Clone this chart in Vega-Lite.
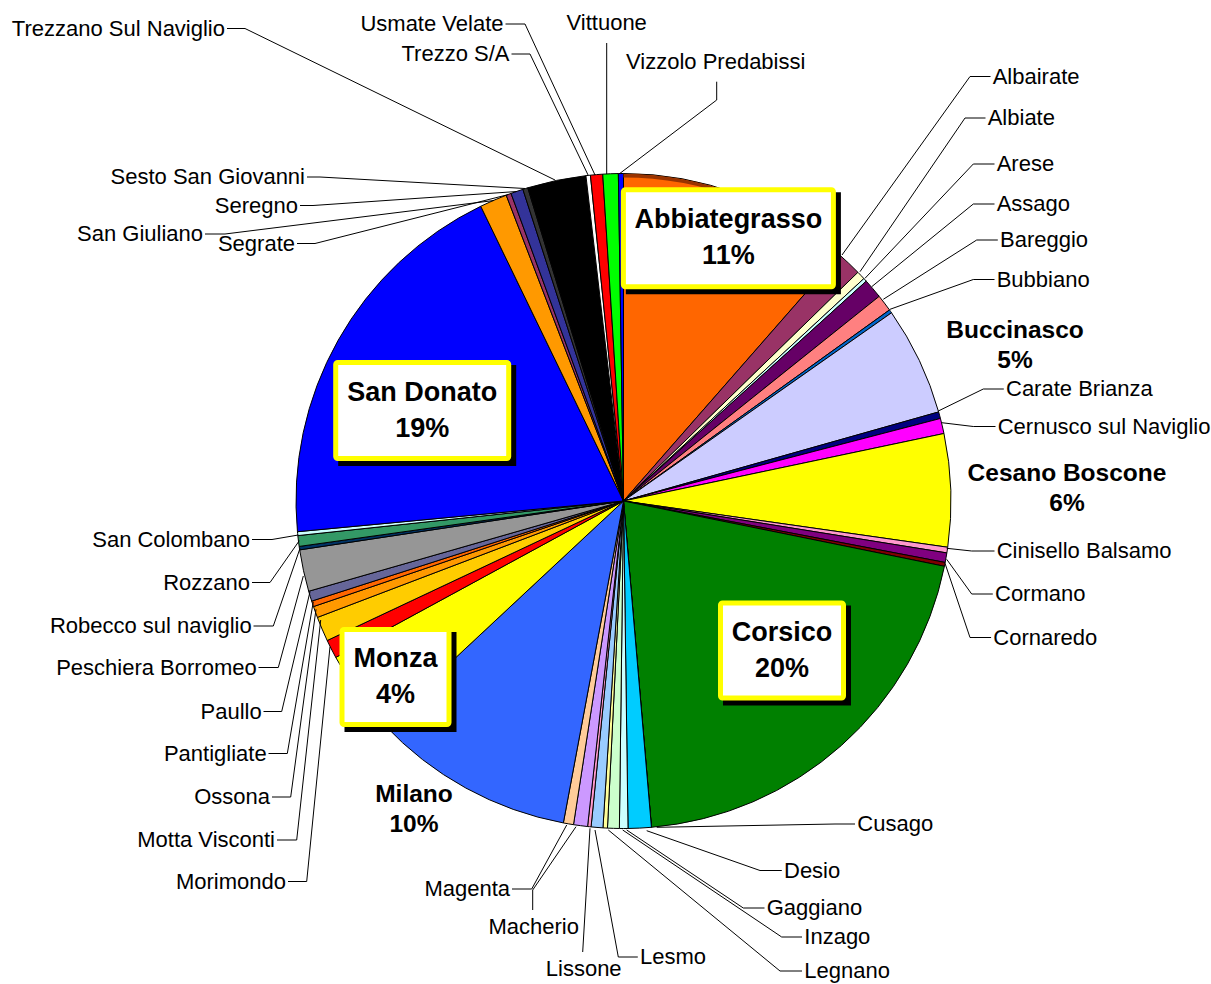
{
  "$schema": "https://vega.github.io/schema/vega-lite/v6.json",
  "width": 1175,
  "height": 966,
  "autosize": {"type": "none"},
  "padding": {"left": 36, "top": 18, "right": 0, "bottom": 0},
  "background": "white",
  "config": {"view": {"stroke": null}},
  "datasets": {
    "slices": [
      {"name": "Abbiategrasso", "share": 0.1145},
      {"name": "Albairate", "share": 0.0125},
      {"name": "Albiate", "share": 0.0042},
      {"name": "Arese", "share": 0.0017},
      {"name": "Assago", "share": 0.0097},
      {"name": "Bareggio", "share": 0.0083},
      {"name": "Bubbiano", "share": 0.0017},
      {"name": "Buccinasco", "share": 0.0536},
      {"name": "Carate Brianza", "share": 0.0033},
      {"name": "Cernusco sul Naviglio", "share": 0.0075},
      {"name": "Cesano Boscone", "share": 0.0556},
      {"name": "Cinisello Balsamo", "share": 0.0028},
      {"name": "Cormano", "share": 0.0047},
      {"name": "Cornaredo", "share": 0.0019},
      {"name": "Corsico", "share": 0.2045},
      {"name": "Cusago", "share": 0},
      {"name": "Desio", "share": 0.0114},
      {"name": "Gaggiano", "share": 0.0042},
      {"name": "Inzago", "share": 0.0058},
      {"name": "Legnano", "share": 0.0022},
      {"name": "Lesmo", "share": 0.0058},
      {"name": "Lissone", "share": 0.0017},
      {"name": "Macherio", "share": 0.0069},
      {"name": "Magenta", "share": 0.005},
      {"name": "Milano", "share": 0.1011},
      {"name": "Monza", "share": 0.0403},
      {"name": "Morimondo", "share": 0.0092},
      {"name": "Motta Visconti", "share": 0.0122},
      {"name": "Ossona", "share": 0.0056},
      {"name": "Pantigliate", "share": 0.0028},
      {"name": "Paullo", "share": 0.005},
      {"name": "Peschiera Borromeo", "share": 0.0206},
      {"name": "Robecco sul naviglio", "share": 0.0017},
      {"name": "Rozzano", "share": 0.0053},
      {"name": "San Colombano", "share": 0.0019},
      {"name": "San Donato", "share": 0.1932},
      {"name": "San Giuliano", "share": 0.0135},
      {"name": "Segrate", "share": 0.0025},
      {"name": "Seregno", "share": 0.0061},
      {"name": "Sesto San Giovanni", "share": 0.0025},
      {"name": "Trezzano Sul Naviglio", "share": 0.0289},
      {"name": "Trezzo S/A", "share": 0.0022},
      {"name": "Usmate Velate", "share": 0.006},
      {"name": "Vittuone", "share": 0.0076},
      {"name": "Vizzolo Predabissi", "share": 0.0025}
    ],
    "labels": [
      {"name": "Trezzano Sul Naviglio", "u": -199.25, "v": 236.25},
      {"name": "Usmate Velate", "u": -60, "v": 238.5},
      {"name": "Trezzo S/A", "u": -57, "v": 223.5},
      {"name": "Sesto San Giovanni", "u": -159.25, "v": 162},
      {"name": "Seregno", "u": -162.75, "v": 147.75},
      {"name": "San Giuliano", "u": -210.25, "v": 133.5},
      {"name": "Segrate", "u": -164.25, "v": 128.75},
      {"name": "San Colombano", "u": -186.75, "v": -19.25},
      {"name": "Rozzano", "u": -186.75, "v": -40.75},
      {"name": "Robecco sul naviglio", "u": -185.9, "v": -62.5},
      {"name": "Peschiera Borromeo", "u": -183.4, "v": -83.25},
      {"name": "Paullo", "u": -180.9, "v": -105.25},
      {"name": "Pantigliate", "u": -178.4, "v": -126.25},
      {"name": "Ossona", "u": -176.75, "v": -148},
      {"name": "Motta Visconti", "u": -174.25, "v": -169.5},
      {"name": "Morimondo", "u": -168.75, "v": -190.25},
      {"name": "Magenta", "u": -56.75, "v": -194},
      {"name": "Albairate", "u": 184.6, "v": 212.25},
      {"name": "Albiate", "u": 182.1, "v": 191.5},
      {"name": "Arese", "u": 186.6, "v": 168.5},
      {"name": "Assago", "u": 186.6, "v": 148.5},
      {"name": "Bareggio", "u": 188.25, "v": 130.5},
      {"name": "Bubbiano", "u": 186.6, "v": 110.75},
      {"name": "Carate Brianza", "u": 191.25, "v": 56},
      {"name": "Cernusco sul Naviglio", "u": 187.1, "v": 37.25},
      {"name": "Cinisello Balsamo", "u": 186.6, "v": -25},
      {"name": "Cormano", "u": 185.75, "v": -46.5},
      {"name": "Cornaredo", "u": 184.9, "v": -68.25},
      {"name": "Cusago", "u": 116.9, "v": -161.5},
      {"name": "Desio", "u": 80.25, "v": -184.75},
      {"name": "Gaggiano", "u": 71.6, "v": -203.5},
      {"name": "Inzago", "u": 90.4, "v": -218},
      {"name": "Legnano", "u": 90.4, "v": -235},
      {"name": "Lesmo", "u": 8.25, "v": -228},
      {"name": "Vittuone", "u": -8.4, "v": 239},
      {"name": "Vizzolo Predabissi", "u": 46.1, "v": 219.5},
      {"name": "Lissone", "u": -19.9, "v": -233.75},
      {"name": "Macherio", "u": -44.9, "v": -213}
    ],
    "callouts": [
      {"name": "Abbiategrasso", "u": 52.45, "v": 131.35},
      {"name": "San Donato", "u": -100.65, "v": 45.25},
      {"name": "Corsico", "u": 79.25, "v": -74.75},
      {"name": "Monza", "u": -114, "v": -88},
      {"name": "Buccinasco", "u": 195.75, "v": 77.65},
      {"name": "Cesano Boscone", "u": 221.75, "v": 6},
      {"name": "Milano", "u": -104.75, "v": -154.5}
    ],
    "leaders": [
      {"name": "Trezzano Sul Naviglio", "k": 1, "u": -198.25, "v": 236.25},
      {"name": "Trezzano Sul Naviglio", "k": 2, "u": -189.25, "v": 236.25},
      {"name": "Trezzano Sul Naviglio", "k": 3, "u": -34.25, "v": 160.5},
      {"name": "Usmate Velate", "k": 1, "u": -59, "v": 238.5},
      {"name": "Usmate Velate", "k": 2, "u": -49.25, "v": 238.5},
      {"name": "Usmate Velate", "k": 3, "u": -14.25, "v": 163},
      {"name": "Trezzo S/A", "k": 1, "u": -56, "v": 223.5},
      {"name": "Trezzo S/A", "k": 2, "u": -46.75, "v": 223.5},
      {"name": "Trezzo S/A", "k": 3, "u": -17.6, "v": 162.75},
      {"name": "Sesto San Giovanni", "k": 1, "u": -158.25, "v": 162},
      {"name": "Sesto San Giovanni", "k": 2, "u": -151.75, "v": 162},
      {"name": "Sesto San Giovanni", "k": 3, "u": -49.25, "v": 156.25},
      {"name": "Seregno", "k": 1, "u": -161.75, "v": 147.75},
      {"name": "Seregno", "k": 2, "u": -155.25, "v": 147.75},
      {"name": "Seregno", "k": 3, "u": -53.25, "v": 154.75},
      {"name": "San Giuliano", "k": 1, "u": -209.25, "v": 133.5},
      {"name": "San Giuliano", "k": 2, "u": -199.25, "v": 133.5},
      {"name": "San Giuliano", "k": 3, "u": -64.75, "v": 150.25},
      {"name": "Segrate", "k": 1, "u": -163.25, "v": 128.75},
      {"name": "Segrate", "k": 2, "u": -154.25, "v": 128.75},
      {"name": "Segrate", "k": 3, "u": -57.5, "v": 153.25},
      {"name": "San Colombano", "k": 1, "u": -185.75, "v": -19.25},
      {"name": "San Colombano", "k": 2, "u": -175.75, "v": -19.25},
      {"name": "San Colombano", "k": 3, "u": -162.6, "v": -17},
      {"name": "Rozzano", "k": 1, "u": -185.75, "v": -40.75},
      {"name": "Rozzano", "k": 2, "u": -176.75, "v": -40.75},
      {"name": "Rozzano", "k": 3, "u": -162.1, "v": -19.85},
      {"name": "Robecco sul naviglio", "k": 1, "u": -185, "v": -62.5},
      {"name": "Robecco sul naviglio", "k": 2, "u": -175.1, "v": -62.5},
      {"name": "Robecco sul naviglio", "k": 3, "u": -161.75, "v": -23.65},
      {"name": "Peschiera Borromeo", "k": 1, "u": -182.5, "v": -83.25},
      {"name": "Peschiera Borromeo", "k": 2, "u": -172.6, "v": -83.25},
      {"name": "Peschiera Borromeo", "k": 3, "u": -160.1, "v": -37.5},
      {"name": "Paullo", "k": 1, "u": -180, "v": -105.25},
      {"name": "Paullo", "k": 2, "u": -170.9, "v": -105.25},
      {"name": "Paullo", "k": 3, "u": -156.75, "v": -45.35},
      {"name": "Pantigliate", "k": 1, "u": -177.5, "v": -126.25},
      {"name": "Pantigliate", "k": 2, "u": -168.1, "v": -126.25},
      {"name": "Pantigliate", "k": 3, "u": -155.1, "v": -50.35},
      {"name": "Ossona", "k": 1, "u": -175.75, "v": -148},
      {"name": "Ossona", "k": 2, "u": -166.4, "v": -148},
      {"name": "Ossona", "k": 3, "u": -153.75, "v": -54.15},
      {"name": "Motta Visconti", "k": 1, "u": -173.25, "v": -169.5},
      {"name": "Motta Visconti", "k": 2, "u": -163.4, "v": -169.5},
      {"name": "Motta Visconti", "k": 3, "u": -151.4, "v": -59.5},
      {"name": "Morimondo", "k": 1, "u": -167.75, "v": -190.25},
      {"name": "Morimondo", "k": 2, "u": -158.4, "v": -190.25},
      {"name": "Morimondo", "k": 3, "u": -146.75, "v": -72.85},
      {"name": "Magenta", "k": 1, "u": -55.75, "v": -194},
      {"name": "Magenta", "k": 2, "u": -45.9, "v": -194},
      {"name": "Magenta", "k": 3, "u": -28.4, "v": -162},
      {"name": "Albairate", "k": 1, "u": 183.5, "v": 212.25},
      {"name": "Albairate", "k": 2, "u": 173.25, "v": 212.25},
      {"name": "Albairate", "k": 3, "u": 109.25, "v": 123},
      {"name": "Albiate", "k": 1, "u": 181, "v": 191.5},
      {"name": "Albiate", "k": 2, "u": 170.75, "v": 191.5},
      {"name": "Albiate", "k": 3, "u": 118.25, "v": 114.65},
      {"name": "Arese", "k": 1, "u": 185.5, "v": 168.5},
      {"name": "Arese", "k": 2, "u": 174.9, "v": 168.5},
      {"name": "Arese", "k": 3, "u": 120.75, "v": 111.35},
      {"name": "Assago", "k": 1, "u": 185.5, "v": 148.5},
      {"name": "Assago", "k": 2, "u": 174.9, "v": 148.5},
      {"name": "Assago", "k": 3, "u": 124.1, "v": 107.15},
      {"name": "Bareggio", "k": 1, "u": 187.15, "v": 130.5},
      {"name": "Bareggio", "k": 2, "u": 176.6, "v": 130.5},
      {"name": "Bareggio", "k": 3, "u": 129.9, "v": 100.85},
      {"name": "Bubbiano", "k": 1, "u": 185.5, "v": 110.75},
      {"name": "Bubbiano", "k": 2, "u": 174.9, "v": 110.75},
      {"name": "Bubbiano", "k": 3, "u": 133.25, "v": 95.85},
      {"name": "Carate Brianza", "k": 1, "u": 190.15, "v": 56},
      {"name": "Carate Brianza", "k": 2, "u": 179.9, "v": 56},
      {"name": "Carate Brianza", "k": 3, "u": 157.4, "v": 45},
      {"name": "Cernusco sul Naviglio", "k": 1, "u": 186, "v": 37.25},
      {"name": "Cernusco sul Naviglio", "k": 2, "u": 174.9, "v": 37.25},
      {"name": "Cernusco sul Naviglio", "k": 3, "u": 159.1, "v": 39.15},
      {"name": "Cinisello Balsamo", "k": 1, "u": 185.5, "v": -25},
      {"name": "Cinisello Balsamo", "k": 2, "u": 174.1, "v": -25},
      {"name": "Cinisello Balsamo", "k": 3, "u": 161.6, "v": -23.65},
      {"name": "Cormano", "k": 1, "u": 184.65, "v": -46.5},
      {"name": "Cormano", "k": 2, "u": 174.1, "v": -46.5},
      {"name": "Cormano", "k": 3, "u": 161.6, "v": -29.15},
      {"name": "Cornaredo", "k": 1, "u": 183.8, "v": -68.25},
      {"name": "Cornaredo", "k": 2, "u": 173.25, "v": -68.25},
      {"name": "Cornaredo", "k": 3, "u": 160.75, "v": -31.15},
      {"name": "Cusago", "k": 1, "u": 115.75, "v": -161.5},
      {"name": "Cusago", "k": 2, "u": 105.75, "v": -161.5},
      {"name": "Cusago", "k": 3, "u": 16.6, "v": -163.15},
      {"name": "Desio", "k": 1, "u": 79.15, "v": -184.75},
      {"name": "Desio", "k": 2, "u": 68.25, "v": -184.75},
      {"name": "Desio", "k": 3, "u": 11.6, "v": -164.85},
      {"name": "Gaggiano", "k": 1, "u": 70.5, "v": -203.5},
      {"name": "Gaggiano", "k": 2, "u": 59.9, "v": -203.5},
      {"name": "Gaggiano", "k": 3, "u": 1.6, "v": -164.5},
      {"name": "Inzago", "k": 1, "u": 89.25, "v": -218},
      {"name": "Inzago", "k": 2, "u": 79.1, "v": -218},
      {"name": "Inzago", "k": 3, "u": -0.4, "v": -164.5},
      {"name": "Legnano", "k": 1, "u": 89.25, "v": -235},
      {"name": "Legnano", "k": 2, "u": 78.25, "v": -235},
      {"name": "Legnano", "k": 3, "u": -7.6, "v": -164.5},
      {"name": "Lesmo", "k": 1, "u": 7.15, "v": -228},
      {"name": "Lesmo", "k": 2, "u": -2.6, "v": -228},
      {"name": "Lesmo", "k": 3, "u": -14.25, "v": -164.5},
      {"name": "Vittuone", "k": 1, "u": -8.4, "v": 229},
      {"name": "Vittuone", "k": 2, "u": -8.4, "v": 163.5},
      {"name": "Vizzolo Predabissi", "k": 1, "u": 46.6, "v": 209.65},
      {"name": "Vizzolo Predabissi", "k": 2, "u": 46.6, "v": 200.5},
      {"name": "Vizzolo Predabissi", "k": 3, "u": -1.75, "v": 163.85},
      {"name": "Lissone", "k": 1, "u": -20.4, "v": -225.5},
      {"name": "Lissone", "k": 2, "u": -16.75, "v": -163.65},
      {"name": "Macherio", "k": 1, "u": -45.4, "v": -204.5},
      {"name": "Macherio", "k": 2, "u": -45.4, "v": -194.5},
      {"name": "Macherio", "k": 3, "u": -23.75, "v": -162.85}
    ]
  },
  "layer": [
    {
      "data": {"name": "slices"},
      "mark": {"type": "arc", "radius": 327.5, "stroke": "#000000", "strokeWidth": 1},
      "encoding": {
        "theta": {"field": "share", "type": "quantitative", "stack": true},
        "order": {"field": "name", "type": "ordinal"},
        "color": {
          "field": "name", "type": "nominal", "legend": null,
          "scale": {
            "domain": ["Abbiategrasso","Albairate","Albiate","Arese","Assago","Bareggio","Bubbiano","Buccinasco","Carate Brianza","Cernusco sul Naviglio","Cesano Boscone","Cinisello Balsamo","Cormano","Cornaredo","Corsico","Cusago","Desio","Gaggiano","Inzago","Legnano","Lesmo","Lissone","Macherio","Magenta","Milano","Monza","Morimondo","Motta Visconti","Ossona","Pantigliate","Paullo","Peschiera Borromeo","Robecco sul naviglio","Rozzano","San Colombano","San Donato","San Giuliano","Segrate","Seregno","Sesto San Giovanni","Trezzano Sul Naviglio","Trezzo S/A","Usmate Velate","Vittuone","Vizzolo Predabissi"],
            "range": ["#FF6600","#993366","#FFFFCC","#CCFFFF","#660066","#FF8080","#0066CC","#CCCCFF","#000080","#FF00FF","#FFFF00","#FF99CC","#800080","#800000","#008000","#008080","#00CCFF","#CCFFFF","#CCFFCC","#FFFF99","#99CCFF","#FF99CC","#CC99FF","#FFCC99","#3366FF","#FFFF00","#FF0000","#FFCC00","#FF9900","#FF6600","#666699","#969696","#003366","#339966","#CCFFFF","#0000FF","#FF9900","#993366","#333399","#333333","#000000","#FFFFFF","#FF0000","#00FF00","#0000FF"]
          }
        }
      }
    },
    {
      "data": {"name": "slices"},
      "mark": {"type": "arc", "radius": 327, "radius2": 323.5, "strokeWidth": 0},
      "encoding": {
        "theta": {"field": "share", "type": "quantitative", "stack": true},
        "order": {"field": "name", "type": "ordinal"},
        "color": {"condition": {"test": "datum.name === 'Abbiategrasso'", "value": "#993300"}, "value": "rgba(0,0,0,0)"}
      }
    },
    {
      "data": {"name": "leaders"},
      "mark": {"type": "line", "stroke": "#000000", "strokeWidth": 1},
      "encoding": {
        "x": {"field": "u", "type": "quantitative", "axis": null, "scale": {"domain": [-293.75, 293.75], "nice": false, "zero": false}},
        "y": {"field": "v", "type": "quantitative", "axis": null, "scale": {"domain": [-241.5, 241.5], "nice": false, "zero": false}},
        "detail": {"field": "name", "type": "nominal"},
        "order": {"field": "k", "type": "quantitative"}
      }
    },
    {
      "data": {"name": "callouts"},
      "transform": [{"filter": "datum.name === 'Abbiategrasso'"}],
      "mark": {"type": "rect", "fill": "#000000", "xOffset": -102.5, "x2Offset": 112.5, "yOffset": -46, "y2Offset": 56},
      "encoding": {
        "x": {"field": "u", "type": "quantitative", "axis": null, "scale": {"domain": [-293.75, 293.75], "nice": false, "zero": false}},
        "x2": {"field": "u"},
        "y": {"field": "v", "type": "quantitative", "axis": null, "scale": {"domain": [-241.5, 241.5], "nice": false, "zero": false}},
        "y2": {"field": "v"}
      }
    },
    {
      "data": {"name": "callouts"},
      "transform": [{"filter": "datum.name === 'Abbiategrasso'"}],
      "mark": {"type": "rect", "fill": "#FFFFFF", "stroke": "#FFFF00", "strokeWidth": 5, "cornerRadius": 2, "xOffset": -105, "x2Offset": 105, "yOffset": -48.5, "y2Offset": 48.5},
      "encoding": {
        "x": {"field": "u", "type": "quantitative", "axis": null, "scale": {"domain": [-293.75, 293.75], "nice": false, "zero": false}},
        "x2": {"field": "u"},
        "y": {"field": "v", "type": "quantitative", "axis": null, "scale": {"domain": [-241.5, 241.5], "nice": false, "zero": false}},
        "y2": {"field": "v"}
      }
    },
    {
      "data": {"name": "callouts"},
      "transform": [{"filter": "datum.name === 'San Donato'"}],
      "mark": {"type": "rect", "fill": "#000000", "xOffset": -84, "x2Offset": 94, "yOffset": -45.5, "y2Offset": 55.5},
      "encoding": {
        "x": {"field": "u", "type": "quantitative", "axis": null, "scale": {"domain": [-293.75, 293.75], "nice": false, "zero": false}},
        "x2": {"field": "u"},
        "y": {"field": "v", "type": "quantitative", "axis": null, "scale": {"domain": [-241.5, 241.5], "nice": false, "zero": false}},
        "y2": {"field": "v"}
      }
    },
    {
      "data": {"name": "callouts"},
      "transform": [{"filter": "datum.name === 'San Donato'"}],
      "mark": {"type": "rect", "fill": "#FFFFFF", "stroke": "#FFFF00", "strokeWidth": 5, "cornerRadius": 2, "xOffset": -86.5, "x2Offset": 86.5, "yOffset": -48, "y2Offset": 48},
      "encoding": {
        "x": {"field": "u", "type": "quantitative", "axis": null, "scale": {"domain": [-293.75, 293.75], "nice": false, "zero": false}},
        "x2": {"field": "u"},
        "y": {"field": "v", "type": "quantitative", "axis": null, "scale": {"domain": [-241.5, 241.5], "nice": false, "zero": false}},
        "y2": {"field": "v"}
      }
    },
    {
      "data": {"name": "callouts"},
      "transform": [{"filter": "datum.name === 'Corsico'"}],
      "mark": {"type": "rect", "fill": "#000000", "xOffset": -59, "x2Offset": 69, "yOffset": -45, "y2Offset": 55},
      "encoding": {
        "x": {"field": "u", "type": "quantitative", "axis": null, "scale": {"domain": [-293.75, 293.75], "nice": false, "zero": false}},
        "x2": {"field": "u"},
        "y": {"field": "v", "type": "quantitative", "axis": null, "scale": {"domain": [-241.5, 241.5], "nice": false, "zero": false}},
        "y2": {"field": "v"}
      }
    },
    {
      "data": {"name": "callouts"},
      "transform": [{"filter": "datum.name === 'Corsico'"}],
      "mark": {"type": "rect", "fill": "#FFFFFF", "stroke": "#FFFF00", "strokeWidth": 5, "cornerRadius": 2, "xOffset": -61.5, "x2Offset": 61.5, "yOffset": -47.5, "y2Offset": 47.5},
      "encoding": {
        "x": {"field": "u", "type": "quantitative", "axis": null, "scale": {"domain": [-293.75, 293.75], "nice": false, "zero": false}},
        "x2": {"field": "u"},
        "y": {"field": "v", "type": "quantitative", "axis": null, "scale": {"domain": [-241.5, 241.5], "nice": false, "zero": false}},
        "y2": {"field": "v"}
      }
    },
    {
      "data": {"name": "callouts"},
      "transform": [{"filter": "datum.name === 'Monza'"}],
      "mark": {"type": "rect", "fill": "#000000", "xOffset": -51, "x2Offset": 61, "yOffset": -45, "y2Offset": 55},
      "encoding": {
        "x": {"field": "u", "type": "quantitative", "axis": null, "scale": {"domain": [-293.75, 293.75], "nice": false, "zero": false}},
        "x2": {"field": "u"},
        "y": {"field": "v", "type": "quantitative", "axis": null, "scale": {"domain": [-241.5, 241.5], "nice": false, "zero": false}},
        "y2": {"field": "v"}
      }
    },
    {
      "data": {"name": "callouts"},
      "transform": [{"filter": "datum.name === 'Monza'"}],
      "mark": {"type": "rect", "fill": "#FFFFFF", "stroke": "#FFFF00", "strokeWidth": 5, "cornerRadius": 2, "xOffset": -53.5, "x2Offset": 53.5, "yOffset": -47.5, "y2Offset": 47.5},
      "encoding": {
        "x": {"field": "u", "type": "quantitative", "axis": null, "scale": {"domain": [-293.75, 293.75], "nice": false, "zero": false}},
        "x2": {"field": "u"},
        "y": {"field": "v", "type": "quantitative", "axis": null, "scale": {"domain": [-241.5, 241.5], "nice": false, "zero": false}},
        "y2": {"field": "v"}
      }
    },
    {
      "data": {"name": "labels"},
      "transform": [{"filter": "indexof(['Vittuone','Vizzolo Predabissi','Lissone','Macherio'], datum.name) < 0 && datum.u < 0"}],
      "mark": {"type": "text", "align": "right", "baseline": "middle", "font": "Liberation Sans", "fontSize": 22, "color": "#000000"},
      "encoding": {
        "x": {"field": "u", "type": "quantitative", "axis": null, "scale": {"domain": [-293.75, 293.75], "nice": false, "zero": false}},
        "y": {"field": "v", "type": "quantitative", "axis": null, "scale": {"domain": [-241.5, 241.5], "nice": false, "zero": false}},
        "text": {"field": "name", "type": "nominal"}
      }
    },
    {
      "data": {"name": "labels"},
      "transform": [{"filter": "indexof(['Vittuone','Vizzolo Predabissi','Lissone','Macherio'], datum.name) < 0 && datum.u >= 0"}],
      "mark": {"type": "text", "align": "left", "baseline": "middle", "font": "Liberation Sans", "fontSize": 22, "color": "#000000"},
      "encoding": {
        "x": {"field": "u", "type": "quantitative", "axis": null, "scale": {"domain": [-293.75, 293.75], "nice": false, "zero": false}},
        "y": {"field": "v", "type": "quantitative", "axis": null, "scale": {"domain": [-241.5, 241.5], "nice": false, "zero": false}},
        "text": {"field": "name", "type": "nominal"}
      }
    },
    {
      "data": {"name": "labels"},
      "transform": [{"filter": "indexof(['Vittuone','Vizzolo Predabissi','Lissone','Macherio'], datum.name) >= 0"}],
      "mark": {"type": "text", "align": "center", "baseline": "middle", "font": "Liberation Sans", "fontSize": 22, "color": "#000000"},
      "encoding": {
        "x": {"field": "u", "type": "quantitative", "axis": null, "scale": {"domain": [-293.75, 293.75], "nice": false, "zero": false}},
        "y": {"field": "v", "type": "quantitative", "axis": null, "scale": {"domain": [-241.5, 241.5], "nice": false, "zero": false}},
        "text": {"field": "name", "type": "nominal"}
      }
    },
    {
      "data": {"name": "callouts"},
      "transform": [{"filter": "indexof(['Abbiategrasso','San Donato','Corsico','Monza'], datum.name) >= 0"}],
      "mark": {"type": "text", "align": "center", "baseline": "middle", "font": "Liberation Sans", "fontWeight": "bold", "fontSize": 27, "dy": -18, "color": "#000000"},
      "encoding": {
        "x": {"field": "u", "type": "quantitative", "axis": null, "scale": {"domain": [-293.75, 293.75], "nice": false, "zero": false}},
        "y": {"field": "v", "type": "quantitative", "axis": null, "scale": {"domain": [-241.5, 241.5], "nice": false, "zero": false}},
        "text": {"field": "name", "type": "nominal"}
      }
    },
    {
      "data": {"name": "callouts"},
      "transform": [
        {"filter": "indexof(['Abbiategrasso','San Donato','Corsico','Monza'], datum.name) >= 0"},
        {"lookup": "name", "from": {"data": {"name": "slices"}, "key": "name", "fields": ["share"]}}
      ],
      "mark": {"type": "text", "align": "center", "baseline": "middle", "font": "Liberation Sans", "fontWeight": "bold", "fontSize": 27, "dy": 18, "color": "#000000"},
      "encoding": {
        "x": {"field": "u", "type": "quantitative", "axis": null, "scale": {"domain": [-293.75, 293.75], "nice": false, "zero": false}},
        "y": {"field": "v", "type": "quantitative", "axis": null, "scale": {"domain": [-241.5, 241.5], "nice": false, "zero": false}},
        "text": {"field": "share", "type": "quantitative", "format": ".0%"}
      }
    },
    {
      "data": {"name": "callouts"},
      "transform": [{"filter": "indexof(['Buccinasco','Cesano Boscone','Milano'], datum.name) >= 0"}],
      "mark": {"type": "text", "align": "center", "baseline": "middle", "font": "Liberation Sans", "fontWeight": "bold", "fontSize": 24.5, "dy": -15, "color": "#000000"},
      "encoding": {
        "x": {"field": "u", "type": "quantitative", "axis": null, "scale": {"domain": [-293.75, 293.75], "nice": false, "zero": false}},
        "y": {"field": "v", "type": "quantitative", "axis": null, "scale": {"domain": [-241.5, 241.5], "nice": false, "zero": false}},
        "text": {"field": "name", "type": "nominal"}
      }
    },
    {
      "data": {"name": "callouts"},
      "transform": [
        {"filter": "indexof(['Buccinasco','Cesano Boscone','Milano'], datum.name) >= 0"},
        {"lookup": "name", "from": {"data": {"name": "slices"}, "key": "name", "fields": ["share"]}}
      ],
      "mark": {"type": "text", "align": "center", "baseline": "middle", "font": "Liberation Sans", "fontWeight": "bold", "fontSize": 24.5, "dy": 15, "color": "#000000"},
      "encoding": {
        "x": {"field": "u", "type": "quantitative", "axis": null, "scale": {"domain": [-293.75, 293.75], "nice": false, "zero": false}},
        "y": {"field": "v", "type": "quantitative", "axis": null, "scale": {"domain": [-241.5, 241.5], "nice": false, "zero": false}},
        "text": {"field": "share", "type": "quantitative", "format": ".0%"}
      }
    }
  ]
}
